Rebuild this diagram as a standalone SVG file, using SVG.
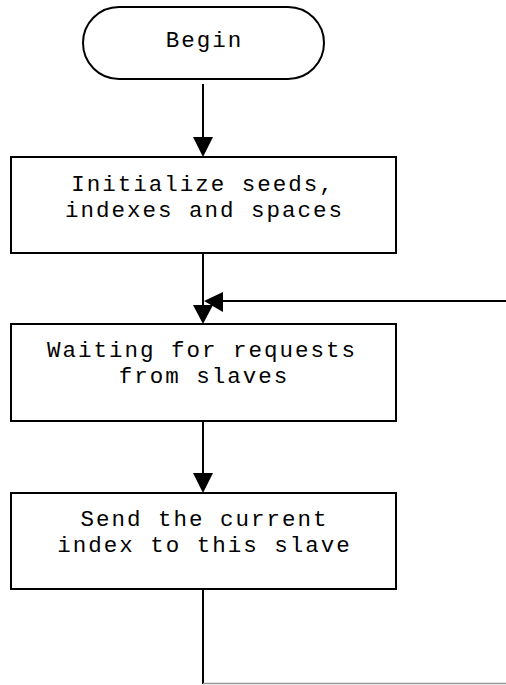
<svg xmlns="http://www.w3.org/2000/svg" width="506" height="685" viewBox="0 0 506 685">
  <defs>
    <style>
      .shape { fill: #ffffff; stroke: #000000; stroke-width: 2; }
      .label { font-family: "Liberation Mono", "Courier New", monospace; font-size: 22.5px; letter-spacing: 2px; fill: #000000; text-anchor: middle; }
      .wire { fill: none; stroke: #000000; stroke-width: 2; }
      .head { fill: #000000; stroke: none; }
    </style>
  </defs>
  <rect width="506" height="685" fill="#ffffff"/>

  <!-- start terminal -->
  <g id="begin">
    <rect class="shape" x="83" y="7" width="241" height="72" rx="36" ry="36"/>
    <text class="label" x="204.5" y="47">Begin</text>
  </g>

  <!-- process steps -->
  <g id="init">
    <rect class="shape" x="11" y="157" width="385" height="96"/>
    <text class="label" x="203" y="191">Initialize seeds,</text>
    <text class="label" x="204.5" y="216.5">indexes and spaces</text>
  </g>

  <g id="wait">
    <rect class="shape" x="11" y="324" width="385" height="97"/>
    <text class="label" x="202" y="357">Waiting for requests</text>
    <text class="label" x="204" y="383">from slaves</text>
  </g>

  <g id="send">
    <rect class="shape" x="11" y="493" width="385" height="96"/>
    <text class="label" x="204.5" y="526">Send the current</text>
    <text class="label" x="204.5" y="551.5">index to this slave</text>
  </g>

  <!-- connectors -->
  <g id="connectors">
    <line class="wire" x1="203" y1="84" x2="203" y2="140"/>
    <polygon class="head" points="193,137 213,137 203,157"/>

    <line class="wire" x1="203" y1="253" x2="203" y2="308"/>
    <polygon class="head" points="193,305 213,305 203,324"/>

    <line class="wire" x1="506" y1="301" x2="220" y2="301"/>
    <polygon class="head" points="223,292 223,312 204,301"/>

    <line class="wire" x1="203" y1="421" x2="203" y2="476"/>
    <polygon class="head" points="193,473 213,473 203,493"/>

    <line class="wire" x1="203" y1="589" x2="203" y2="684"/>
    <line x1="203" y1="683.5" x2="506" y2="683.5" stroke="#999999" stroke-width="1.5"/>
  </g>
</svg>
